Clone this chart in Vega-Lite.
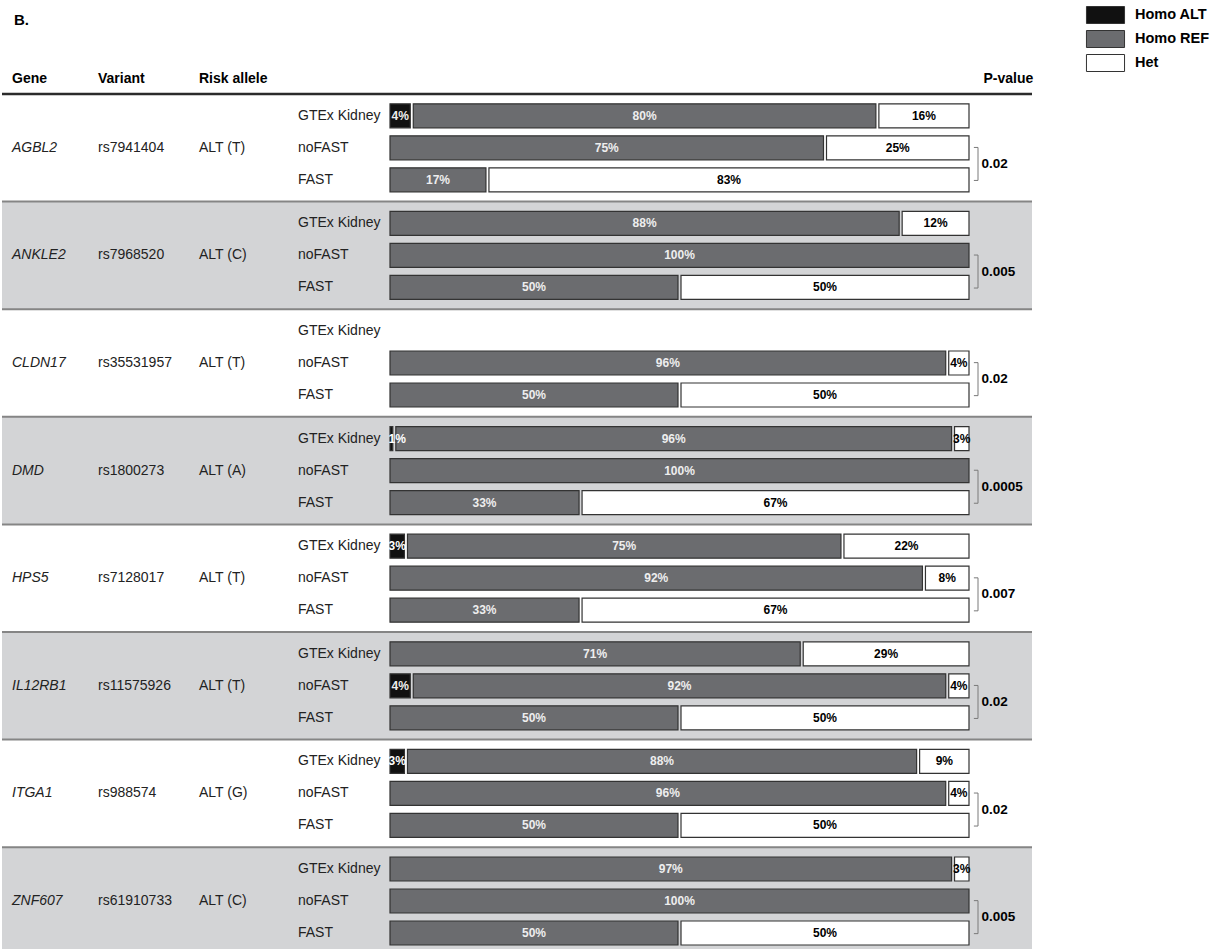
{
  "$schema": "https://vega.github.io/schema/vega-lite/v6.json",
  "width": 1030,
  "height": 949,
  "padding": 0,
  "background": "white",
  "title": {"text": "B.", "anchor": "start", "frame": "group", "offset": -28, "dx": 12, "fontSize": 15, "fontWeight": "bold", "color": "#000"},
  "config": {"font": "Liberation Sans", "view": {"stroke": null}},
  "resolve": {"scale": {"x": "independent"}},
  "datasets": {
    "genes": [
      {"gene": "AGBL2", "variant": "rs7941404", "risk": "ALT (T)", "p": "0.02"},
      {"gene": "ANKLE2", "variant": "rs7968520", "risk": "ALT (C)", "p": "0.005"},
      {"gene": "CLDN17", "variant": "rs35531957", "risk": "ALT (T)", "p": "0.02"},
      {"gene": "DMD", "variant": "rs1800273", "risk": "ALT (A)", "p": "0.0005"},
      {"gene": "HPS5", "variant": "rs7128017", "risk": "ALT (T)", "p": "0.007"},
      {"gene": "IL12RB1", "variant": "rs11575926", "risk": "ALT (T)", "p": "0.02"},
      {"gene": "ITGA1", "variant": "rs988574", "risk": "ALT (G)", "p": "0.02"},
      {"gene": "ZNF607", "variant": "rs61910733", "risk": "ALT (C)", "p": "0.005"}
    ],
    "geno": [
      {"gene": "AGBL2", "cohort": "GTEx Kidney", "geno": "Homo ALT", "pct": 4},
      {"gene": "AGBL2", "cohort": "GTEx Kidney", "geno": "Homo REF", "pct": 80},
      {"gene": "AGBL2", "cohort": "GTEx Kidney", "geno": "Het", "pct": 16},
      {"gene": "AGBL2", "cohort": "noFAST", "geno": "Homo REF", "pct": 75},
      {"gene": "AGBL2", "cohort": "noFAST", "geno": "Het", "pct": 25},
      {"gene": "AGBL2", "cohort": "FAST", "geno": "Homo REF", "pct": 17},
      {"gene": "AGBL2", "cohort": "FAST", "geno": "Het", "pct": 83},
      {"gene": "ANKLE2", "cohort": "GTEx Kidney", "geno": "Homo REF", "pct": 88},
      {"gene": "ANKLE2", "cohort": "GTEx Kidney", "geno": "Het", "pct": 12},
      {"gene": "ANKLE2", "cohort": "noFAST", "geno": "Homo REF", "pct": 100},
      {"gene": "ANKLE2", "cohort": "FAST", "geno": "Homo REF", "pct": 50},
      {"gene": "ANKLE2", "cohort": "FAST", "geno": "Het", "pct": 50},
      {"gene": "CLDN17", "cohort": "noFAST", "geno": "Homo REF", "pct": 96},
      {"gene": "CLDN17", "cohort": "noFAST", "geno": "Het", "pct": 4},
      {"gene": "CLDN17", "cohort": "FAST", "geno": "Homo REF", "pct": 50},
      {"gene": "CLDN17", "cohort": "FAST", "geno": "Het", "pct": 50},
      {"gene": "DMD", "cohort": "GTEx Kidney", "geno": "Homo ALT", "pct": 1},
      {"gene": "DMD", "cohort": "GTEx Kidney", "geno": "Homo REF", "pct": 96},
      {"gene": "DMD", "cohort": "GTEx Kidney", "geno": "Het", "pct": 3},
      {"gene": "DMD", "cohort": "noFAST", "geno": "Homo REF", "pct": 100},
      {"gene": "DMD", "cohort": "FAST", "geno": "Homo REF", "pct": 33},
      {"gene": "DMD", "cohort": "FAST", "geno": "Het", "pct": 67},
      {"gene": "HPS5", "cohort": "GTEx Kidney", "geno": "Homo ALT", "pct": 3},
      {"gene": "HPS5", "cohort": "GTEx Kidney", "geno": "Homo REF", "pct": 75},
      {"gene": "HPS5", "cohort": "GTEx Kidney", "geno": "Het", "pct": 22},
      {"gene": "HPS5", "cohort": "noFAST", "geno": "Homo REF", "pct": 92},
      {"gene": "HPS5", "cohort": "noFAST", "geno": "Het", "pct": 8},
      {"gene": "HPS5", "cohort": "FAST", "geno": "Homo REF", "pct": 33},
      {"gene": "HPS5", "cohort": "FAST", "geno": "Het", "pct": 67},
      {"gene": "IL12RB1", "cohort": "GTEx Kidney", "geno": "Homo REF", "pct": 71},
      {"gene": "IL12RB1", "cohort": "GTEx Kidney", "geno": "Het", "pct": 29},
      {"gene": "IL12RB1", "cohort": "noFAST", "geno": "Homo ALT", "pct": 4},
      {"gene": "IL12RB1", "cohort": "noFAST", "geno": "Homo REF", "pct": 92},
      {"gene": "IL12RB1", "cohort": "noFAST", "geno": "Het", "pct": 4},
      {"gene": "IL12RB1", "cohort": "FAST", "geno": "Homo REF", "pct": 50},
      {"gene": "IL12RB1", "cohort": "FAST", "geno": "Het", "pct": 50},
      {"gene": "ITGA1", "cohort": "GTEx Kidney", "geno": "Homo ALT", "pct": 3},
      {"gene": "ITGA1", "cohort": "GTEx Kidney", "geno": "Homo REF", "pct": 88},
      {"gene": "ITGA1", "cohort": "GTEx Kidney", "geno": "Het", "pct": 9},
      {"gene": "ITGA1", "cohort": "noFAST", "geno": "Homo REF", "pct": 96},
      {"gene": "ITGA1", "cohort": "noFAST", "geno": "Het", "pct": 4},
      {"gene": "ITGA1", "cohort": "FAST", "geno": "Homo REF", "pct": 50},
      {"gene": "ITGA1", "cohort": "FAST", "geno": "Het", "pct": 50},
      {"gene": "ZNF607", "cohort": "GTEx Kidney", "geno": "Homo REF", "pct": 97},
      {"gene": "ZNF607", "cohort": "GTEx Kidney", "geno": "Het", "pct": 3},
      {"gene": "ZNF607", "cohort": "noFAST", "geno": "Homo REF", "pct": 100},
      {"gene": "ZNF607", "cohort": "FAST", "geno": "Homo REF", "pct": 50},
      {"gene": "ZNF607", "cohort": "FAST", "geno": "Het", "pct": 50}
    ]
  },
  "layer": [
    {
      "data": {"name": "genes"},
      "transform": [
        {"window": [{"op": "row_number", "as": "i"}]},
        {"filter": "datum.i % 2 == 0"}
      ],
      "mark": {"type": "rect", "fill": "#d3d4d6"},
      "encoding": {
        "y": {"field": "gene", "type": "nominal", "axis": null, "scale": {"domain": ["AGBL2","ANKLE2","CLDN17","DMD","HPS5","IL12RB1","ITGA1","ZNF607"], "range": [94, 954.8], "paddingInner": 0, "paddingOuter": 0}}
      }
    },
    {
      "data": {"name": "genes"},
      "transform": [
        {"window": [{"op": "row_number", "as": "i"}]},
        {"filter": "datum.i > 1"}
      ],
      "mark": {"type": "rule", "stroke": "#858585", "strokeWidth": 2},
      "encoding": {
        "y": {"field": "gene", "type": "nominal", "bandPosition": 0, "axis": null, "scale": {"domain": ["AGBL2","ANKLE2","CLDN17","DMD","HPS5","IL12RB1","ITGA1","ZNF607"], "range": [94, 954.8], "paddingInner": 0, "paddingOuter": 0}}
      }
    },
    {
      "data": {"name": "genes"},
      "transform": [
        {"window": [{"op": "row_number", "as": "i"}]},
        {"filter": "datum.i == 1"}
      ],
      "mark": {"type": "rule", "stroke": "#2b2b2b", "strokeWidth": 2.5},
      "encoding": {
        "y": {"field": "gene", "type": "nominal", "bandPosition": 0, "axis": null, "scale": {"domain": ["AGBL2","ANKLE2","CLDN17","DMD","HPS5","IL12RB1","ITGA1","ZNF607"], "range": [94, 954.8], "paddingInner": 0, "paddingOuter": 0}}
      }
    },
    {
      "data": {"name": "geno"},
      "transform": [
        {"calculate": "indexof(['Homo ALT','Homo REF','Het'], datum.geno)", "as": "ord"},
        {"stack": "pct", "groupby": ["gene", "cohort"], "sort": [{"field": "ord"}], "as": ["x0", "x1"]}
      ],
      "mark": {"type": "bar", "xOffset": 1.5, "x2Offset": -1.5, "stroke": "#333333", "strokeWidth": 1.2},
      "encoding": {
        "x": {"field": "x0", "type": "quantitative", "axis": null, "scale": {"domain": [0, 100], "range": [386.5, 968.5], "nice": false, "zero": false}},
        "x2": {"field": "x1"},
        "y": {"field": "gene", "type": "nominal", "axis": null, "scale": {"domain": ["AGBL2","ANKLE2","CLDN17","DMD","HPS5","IL12RB1","ITGA1","ZNF607"], "range": [94, 954.8], "paddingInner": 0, "paddingOuter": 0}},
        "yOffset": {"field": "cohort", "type": "nominal", "scale": {"domain": ["GTEx Kidney", "noFAST", "FAST"], "paddingInner": 0.25, "paddingOuter": 0.306}},
        "color": {
          "field": "geno", "type": "nominal",
          "scale": {"domain": ["Homo ALT", "Homo REF", "Het"], "range": ["#111111", "#6b6c6f", "#ffffff"]},
          "legend": {"title": null, "orient": "none", "legendX": 1094.5, "legendY": 6, "symbolType": "M-2.24,-1H2.24V1H-2.24Z", "symbolSize": 289, "symbolStrokeColor": "#333333", "symbolStrokeWidth": 1, "symbolOpacity": 1, "labelFontSize": 14.5, "labelFontWeight": "bold", "labelColor": "#000000", "rowPadding": 2, "labelOffset": 20.5}
        }
      }
    },
    {
      "data": {"name": "geno"},
      "transform": [
        {"calculate": "indexof(['Homo ALT','Homo REF','Het'], datum.geno)", "as": "ord"},
        {"stack": "pct", "groupby": ["gene", "cohort"], "sort": [{"field": "ord"}], "as": ["x0", "x1"]},
        {"calculate": "(datum.x0 + datum.x1) / 2", "as": "mid"},
        {"calculate": "datum.pct + '%'", "as": "lbl"},
        {"filter": "datum.pct > 3"}
      ],
      "mark": {"type": "text", "fontSize": 12, "fontWeight": "bold", "baseline": "middle", "align": "center"},
      "encoding": {
        "x": {"field": "mid", "type": "quantitative", "axis": null, "scale": {"domain": [0, 100], "range": [386.5, 968.5], "nice": false, "zero": false}},
        "y": {"field": "gene", "type": "nominal", "axis": null, "scale": {"domain": ["AGBL2","ANKLE2","CLDN17","DMD","HPS5","IL12RB1","ITGA1","ZNF607"], "range": [94, 954.8], "paddingInner": 0, "paddingOuter": 0}},
        "yOffset": {"field": "cohort", "type": "nominal", "scale": {"domain": ["GTEx Kidney", "noFAST", "FAST"], "paddingInner": 0.25, "paddingOuter": 0.306}},
        "text": {"field": "lbl"},
        "color": {"condition": {"test": "datum.geno === 'Het'", "value": "#000000"}, "value": "#eeeeee"}
      }
    },
    {
      "data": {"name": "geno"},
      "transform": [
        {"calculate": "indexof(['Homo ALT','Homo REF','Het'], datum.geno)", "as": "ord"},
        {"stack": "pct", "groupby": ["gene", "cohort"], "sort": [{"field": "ord"}], "as": ["x0", "x1"]},
        {"calculate": "datum.pct + '%'", "as": "lbl"},
        {"filter": "datum.pct <= 3"}
      ],
      "mark": {"type": "text", "fontSize": 12, "fontWeight": "bold", "baseline": "middle", "align": "left"},
      "encoding": {
        "x": {"field": "x0", "type": "quantitative", "axis": null, "scale": {"domain": [0, 100], "range": [386.5, 968.5], "nice": false, "zero": false}},
        "y": {"field": "gene", "type": "nominal", "axis": null, "scale": {"domain": ["AGBL2","ANKLE2","CLDN17","DMD","HPS5","IL12RB1","ITGA1","ZNF607"], "range": [94, 954.8], "paddingInner": 0, "paddingOuter": 0}},
        "yOffset": {"field": "cohort", "type": "nominal", "scale": {"domain": ["GTEx Kidney", "noFAST", "FAST"], "paddingInner": 0.25, "paddingOuter": 0.306}},
        "text": {"field": "lbl"},
        "color": {"condition": {"test": "datum.geno === 'Het'", "value": "#000000"}, "value": "#ffffff"}
      }
    },
    {
      "data": {"name": "genes"},
      "transform": [
        {"calculate": "['GTEx Kidney','noFAST','FAST']", "as": "cohort"},
        {"flatten": ["cohort"]}
      ],
      "mark": {"type": "text", "fontSize": 14, "align": "left", "baseline": "middle", "color": "#222222"},
      "encoding": {
        "x": {"datum": 3, "type": "quantitative", "axis": null, "scale": {"domain": [0, 1, 2, 3], "range": [10, 96, 197, 296], "nice": false, "zero": false}},
        "y": {"field": "gene", "type": "nominal", "axis": null, "scale": {"domain": ["AGBL2","ANKLE2","CLDN17","DMD","HPS5","IL12RB1","ITGA1","ZNF607"], "range": [94, 954.8], "paddingInner": 0, "paddingOuter": 0}},
        "yOffset": {"field": "cohort", "type": "nominal", "scale": {"domain": ["GTEx Kidney", "noFAST", "FAST"], "paddingInner": 0.25, "paddingOuter": 0.306}},
        "text": {"field": "cohort"}
      }
    },
    {
      "data": {"name": "genes"},
      "mark": {"type": "text", "fontSize": 14, "fontStyle": "italic", "align": "left", "baseline": "middle", "color": "#222222"},
      "encoding": {
        "x": {"datum": 0, "type": "quantitative", "axis": null, "scale": {"domain": [0, 1, 2, 3], "range": [10, 96, 197, 296], "nice": false, "zero": false}},
        "y": {"field": "gene", "type": "nominal", "axis": null, "scale": {"domain": ["AGBL2","ANKLE2","CLDN17","DMD","HPS5","IL12RB1","ITGA1","ZNF607"], "range": [94, 954.8], "paddingInner": 0, "paddingOuter": 0}},
        "text": {"field": "gene"}
      }
    },
    {
      "data": {"name": "genes"},
      "mark": {"type": "text", "fontSize": 14, "align": "left", "baseline": "middle", "color": "#222222"},
      "encoding": {
        "x": {"datum": 1, "type": "quantitative", "axis": null, "scale": {"domain": [0, 1, 2, 3], "range": [10, 96, 197, 296], "nice": false, "zero": false}},
        "y": {"field": "gene", "type": "nominal", "axis": null, "scale": {"domain": ["AGBL2","ANKLE2","CLDN17","DMD","HPS5","IL12RB1","ITGA1","ZNF607"], "range": [94, 954.8], "paddingInner": 0, "paddingOuter": 0}},
        "text": {"field": "variant"}
      }
    },
    {
      "data": {"name": "genes"},
      "mark": {"type": "text", "fontSize": 14, "align": "left", "baseline": "middle", "color": "#222222"},
      "encoding": {
        "x": {"datum": 2, "type": "quantitative", "axis": null, "scale": {"domain": [0, 1, 2, 3], "range": [10, 96, 197, 296], "nice": false, "zero": false}},
        "y": {"field": "gene", "type": "nominal", "axis": null, "scale": {"domain": ["AGBL2","ANKLE2","CLDN17","DMD","HPS5","IL12RB1","ITGA1","ZNF607"], "range": [94, 954.8], "paddingInner": 0, "paddingOuter": 0}},
        "text": {"field": "risk"}
      }
    },
    {
      "data": {"values": [{"col": "Gene"}, {"col": "Variant"}, {"col": "Risk allele"}]},
      "transform": [
        {"calculate": "indexof(['Gene','Variant','Risk allele','Cohort'], datum.col)", "as": "ci"},
        {"calculate": "'AGBL2'", "as": "first"}
      ],
      "mark": {"type": "text", "fontSize": 14, "fontWeight": "bold", "align": "left", "baseline": "alphabetic", "dy": -11, "color": "#000000"},
      "encoding": {
        "x": {"field": "ci", "type": "quantitative", "axis": null, "scale": {"domain": [0, 1, 2, 3], "range": [10, 96, 197, 296], "nice": false, "zero": false}},
        "y": {"field": "first", "type": "nominal", "bandPosition": 0, "axis": null, "scale": {"domain": ["AGBL2","ANKLE2","CLDN17","DMD","HPS5","IL12RB1","ITGA1","ZNF607"], "range": [94, 954.8], "paddingInner": 0, "paddingOuter": 0}},
        "text": {"field": "col"}
      }
    },
    {
      "data": {"values": [{"col": "P-value"}]},
      "transform": [{"calculate": "'AGBL2'", "as": "first"}],
      "mark": {"type": "text", "fontSize": 14, "fontWeight": "bold", "align": "left", "baseline": "alphabetic", "dy": -11, "color": "#000000", "dx": 13},
      "encoding": {
        "x": {"datum": 100, "type": "quantitative", "axis": null, "scale": {"domain": [0, 100], "range": [386.5, 968.5], "nice": false, "zero": false}},
        "y": {"field": "first", "type": "nominal", "bandPosition": 0, "axis": null, "scale": {"domain": ["AGBL2","ANKLE2","CLDN17","DMD","HPS5","IL12RB1","ITGA1","ZNF607"], "range": [94, 954.8], "paddingInner": 0, "paddingOuter": 0}},
        "text": {"field": "col"}
      }
    },
    {
      "data": {"name": "genes"},
      "mark": {"type": "point", "shape": "M-0.25,-1H0V1H-0.25", "size": 1089, "filled": false, "stroke": "#7a7a7a", "strokeWidth": 1, "opacity": 1, "xOffset": 7.5},
      "encoding": {
        "x": {"datum": 100, "type": "quantitative", "axis": null, "scale": {"domain": [0, 100], "range": [386.5, 968.5], "nice": false, "zero": false}},
        "y": {"field": "gene", "type": "nominal", "bandPosition": 0.65, "axis": null, "scale": {"domain": ["AGBL2","ANKLE2","CLDN17","DMD","HPS5","IL12RB1","ITGA1","ZNF607"], "range": [94, 954.8], "paddingInner": 0, "paddingOuter": 0}}
      }
    },
    {
      "data": {"name": "genes"},
      "mark": {"type": "text", "fontSize": 13.5, "fontWeight": "bold", "align": "left", "baseline": "middle", "color": "#000000", "dx": 11},
      "encoding": {
        "x": {"datum": 100, "type": "quantitative", "axis": null, "scale": {"domain": [0, 100], "range": [386.5, 968.5], "nice": false, "zero": false}},
        "y": {"field": "gene", "type": "nominal", "bandPosition": 0.65, "axis": null, "scale": {"domain": ["AGBL2","ANKLE2","CLDN17","DMD","HPS5","IL12RB1","ITGA1","ZNF607"], "range": [94, 954.8], "paddingInner": 0, "paddingOuter": 0}},
        "text": {"field": "p"}
      }
    }
  ]
}
